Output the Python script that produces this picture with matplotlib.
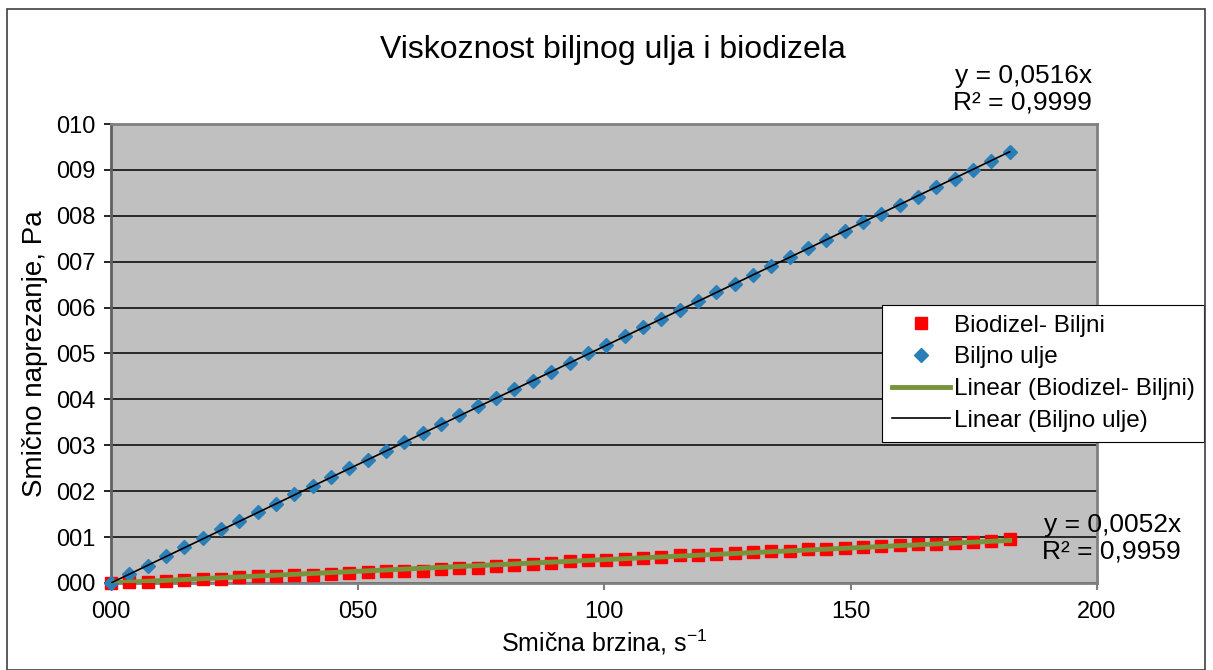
import matplotlib
matplotlib.use('Agg')
import matplotlib.pyplot as plt
from matplotlib.patches import Rectangle
import numpy as np

# =========================
# Donnees
# =========================
smicna_brzina = [0.0, 3.72, 7.44, 11.16, 14.88, 18.6, 22.32, 26.04, 29.76, 33.48,
                 37.2, 40.92, 44.64, 48.36, 52.08, 55.8, 59.52, 63.24, 66.96, 70.68,
                 74.4, 78.12, 81.84, 85.56, 89.28, 93.0, 96.72, 100.44, 104.16, 107.88,
                 111.6, 115.32, 119.04, 122.76, 126.48, 130.2, 133.92, 137.64, 141.36, 145.08,
                 148.8, 152.52, 156.24, 159.96, 163.68, 167.4, 171.12, 174.84, 178.56, 182.28]

biljno_ulje = [0.0, 0.19, 0.38, 0.58, 0.79, 0.97, 1.17, 1.35, 1.55, 1.73,
               1.93, 2.12, 2.31, 2.51, 2.68, 2.88, 3.08, 3.27, 3.46, 3.66,
               3.85, 4.03, 4.22, 4.41, 4.60, 4.80, 5.00, 5.19, 5.38, 5.57,
               5.76, 5.95, 6.15, 6.33, 6.52, 6.71, 6.90, 7.10, 7.29, 7.48,
               7.67, 7.87, 8.04, 8.23, 8.42, 8.63, 8.80, 8.99, 9.19, 9.38]

biodizel = [0.00, 0.02, 0.03, 0.05, 0.07, 0.08, 0.08, 0.13, 0.15, 0.15,
            0.18, 0.18, 0.20, 0.22, 0.23, 0.25, 0.27, 0.27, 0.30, 0.32,
            0.33, 0.37, 0.40, 0.42, 0.43, 0.47, 0.50, 0.50, 0.53, 0.55,
            0.57, 0.60, 0.60, 0.63, 0.65, 0.68, 0.70, 0.70, 0.73, 0.75,
            0.77, 0.78, 0.80, 0.83, 0.85, 0.85, 0.88, 0.90, 0.92, 0.95]

x_ticks = [0, 50, 100, 150, 200]
y_ticks = [0, 1, 2, 3, 4, 5, 6, 7, 8, 9, 10]

plt.rcParams['font.family'] = ['Liberation Sans', 'DejaVu Sans']
plt.rcParams['mathtext.fontset'] = 'custom'
plt.rcParams['mathtext.rm'] = 'Liberation Sans'

x = np.array(smicna_brzina)
yb = np.array(biljno_ulje)
yr = np.array(biodizel)

# tendances lineaires passant par l'origine
k_b = (x * yb).sum() / (x * x).sum()
k_r = (x * yr).sum() / (x * x).sum()
x_fit = np.array([0, x.max()])

fig = plt.figure(figsize=(12.13, 6.70), dpi=100)
ax = fig.add_axes([0.0915, 0.1299, 0.9044 - 0.0915, 0.8149 - 0.1299])
ax.set_facecolor('#C0C0C0')

ax.plot(x, yr, linestyle='none', marker='s', markersize=9, color='#FF0000',
        label='Biodizel- Biljni', zorder=3, clip_on=False)
ax.plot(x, yb, linestyle='none', marker='D', markersize=7.5, color='#2A7FB8',
        label='Biljno ulje', zorder=3, clip_on=False)
ax.plot(x_fit, k_r * x_fit, color='#77933C', linewidth=3.5,
        label='Linear (Biodizel- Biljni)', zorder=4)
ax.plot(x_fit, k_b * x_fit, color='black', linewidth=1.2,
        label='Linear (Biljno ulje)', zorder=4)

ax.set_xlim(0, 200)
ax.set_ylim(0, 10)
ax.set_xticks(x_ticks)
ax.set_yticks(y_ticks)
ax.set_xticklabels([f"{v:03d}" for v in x_ticks])
ax.set_yticklabels([f"{v:03d}" for v in y_ticks])
ax.tick_params(axis='both', labelsize=17, direction='out', length=5)
ax.tick_params(axis='x', color='#808080', width=1.5, pad=8)
ax.tick_params(axis='y', color='black', width=1.2, pad=6)

ax.grid(axis='y', color='black', linewidth=1.1)
ax.set_axisbelow(True)
for s in ['left', 'top', 'right', 'bottom']:
    ax.spines[s].set_color('#808080')
    ax.spines[s].set_linewidth(2)
ax.spines['left'].set_color('#606060')

ax.set_xlabel('Smična brzina, s$^{\\mathrm{-1}}$', fontsize=18, labelpad=3)
ax.set_ylabel('Smično naprezanje, Pa', fontsize=20, labelpad=6)

fig.text(0.505, 0.925, 'Viskoznost biljnog ulja i biodizela', fontsize=23,
         ha='center', va='center')

fig.text(1092 / 1213, 1 - 64 / 670, 'y = 0,0516x\nR² = 0,9999', fontsize=19,
         ha='right', va='top', linespacing=1.12)
fig.text(1181 / 1213, 1 - 513 / 670, 'y = 0,0052x\nR² = 0,9959', fontsize=19,
         ha='right', va='top', linespacing=1.12)

leg = ax.legend(loc='upper left', bbox_to_anchor=(882 / 1213, 1 - 305 / 670),
                bbox_transform=fig.transFigure, fontsize=17.5, frameon=True,
                fancybox=False, edgecolor='black', framealpha=1,
                handlelength=2.4, handletextpad=0.15, borderpad=0.4,
                labelspacing=0.4, borderaxespad=0)
leg.get_frame().set_linewidth(0.8)
leg.set_zorder(10)

# cadre du graphique
fig.patches.append(Rectangle((7 / 1213, 0), 1198 / 1213, 1 - 9 / 670,
                             transform=fig.transFigure, fill=False,
                             edgecolor='#404040', linewidth=1.2))

plt.savefig("out.png", dpi=100)
